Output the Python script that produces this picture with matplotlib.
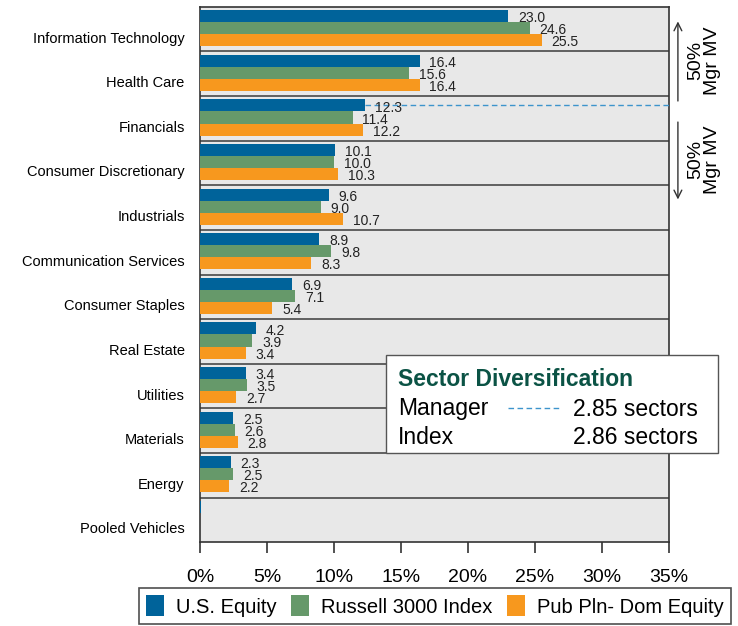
import matplotlib.pyplot as plt
from matplotlib.lines import Line2D
from matplotlib.patches import Patch, Rectangle
from matplotlib.transforms import ScaledTranslation

plt.rcParams["font.family"] = ["Liberation Sans", "DejaVu Sans"]

# Sector weights (% of market value)
sectors = [
    "Information Technology",
    "Health Care",
    "Financials",
    "Consumer Discretionary",
    "Industrials",
    "Communication Services",
    "Consumer Staples",
    "Real Estate",
    "Utilities",
    "Materials",
    "Energy",
    "Pooled Vehicles",
]
us_equity = [23.0, 16.4, 12.3, 10.1, 9.6, 8.9, 6.9, 4.2, 3.4, 2.5, 2.3, 0.05]
russell_3000 = [24.6, 15.6, 11.4, 10.0, 9.0, 9.8, 7.1, 3.9, 3.5, 2.6, 2.5, 0.0]
pub_pln_dom = [25.5, 16.4, 12.2, 10.3, 10.7, 8.3, 5.4, 3.4, 2.7, 2.8, 2.2, 0.0]
series_names = ["U.S. Equity", "Russell 3000 Index", "Pub Pln- Dom Equity"]
x_ticks = [0, 5, 10, 15, 20, 25, 30, 35]

manager_sectors = 2.85
index_sectors = 2.86

COLORS = ["#00639a", "#66996a", "#f7981e"]
DASH_COLOR = "#3d94cc"
TITLE_COLOR = "#0b5345"

fig = plt.figure(figsize=(7.38, 6.26), dpi=100)
ax = fig.add_axes([0.271, 0.134, 0.6355, 0.855])
ax.set_facecolor("#e8e8e8")

bar_h = 0.27
offsets = [-0.27, 0.0, 0.27]
all_series = [us_equity, russell_3000, pub_pln_dom]
positions = list(range(len(sectors)))

for values, off, color in zip(all_series, offsets, COLORS):
    ys = [p + off - 0.02 for p in positions]
    ax.barh(ys, values, height=bar_h, color=color, edgecolor="none", zorder=3)
    for y, v, name in zip(ys, values, sectors):
        if name == "Pooled Vehicles":
            continue
        ax.annotate(f"{v:.1f}", xy=(v, y), xytext=(7, -1.5),
                    textcoords="offset points", ha="left", va="center",
                    fontsize=10, color="#222222", zorder=4)

# group separators
for i in range(len(sectors) - 1):
    ax.axhline(i + 0.5, color="#555555", linewidth=1.3, zorder=2)

ax.set_xlim(0, 35)
ax.set_ylim(len(sectors) - 0.5, -0.5)
ax.set_yticks(positions)
ax.set_yticklabels(sectors, fontsize=10.5)
ax.tick_params(axis="y", length=0, pad=11)
# category names sit a little below the group centre
shift = ScaledTranslation(0, -8 / 100, fig.dpi_scale_trans)
for lbl in ax.get_yticklabels():
    lbl.set_transform(lbl.get_transform() + shift)
ax.set_xticks(x_ticks)
ax.set_xticklabels([f"{t}%" for t in x_ticks], fontsize=14)
ax.tick_params(axis="x", direction="out", length=8, width=1.2, pad=11,
               color="#333333")
for spine in ax.spines.values():
    spine.set_color("#333333")
    spine.set_linewidth(1.2)

# manager split line at Financials
fin = sectors.index("Financials")
ax.plot([us_equity[fin], 35], [fin - 0.29, fin - 0.29], linestyle=(0, (4, 2.5)),
        color=DASH_COLOR, linewidth=1.0, zorder=3)

# 50% market value arrows on the right
arrow_kw = dict(arrowstyle="->", color="#333333", lw=1.0, mutation_scale=14)
ax.annotate("", xy=(1.019, 0.978), xytext=(1.019, 0.819),
            xycoords="axes fraction", arrowprops=arrow_kw, annotation_clip=False)
ax.annotate("", xy=(1.019, 0.635), xytext=(1.019, 0.79),
            xycoords="axes fraction", arrowprops=arrow_kw, annotation_clip=False)
for yy in (0.9, 0.715):
    ax.text(1.075, yy, "50%\nMgr MV", transform=ax.transAxes, rotation=90,
            ha="center", va="center", fontsize=14, linespacing=0.95)

# sector diversification box
box = Rectangle((386 / 738, 1 - 453 / 626), (718 - 386) / 738, (453 - 355) / 626,
                transform=fig.transFigure, facecolor="white", edgecolor="#555555",
                linewidth=1.0, zorder=5)
fig.add_artist(box)
fig.text(398 / 738, 1 - 380 / 626, "Sector Diversification", fontsize=16.5,
         fontweight="bold", color=TITLE_COLOR, va="center", zorder=6)
fig.text(398 / 738, 1 - 409 / 626, "Manager", fontsize=16.5, va="center", zorder=6)
fig.add_artist(Line2D([508 / 738, 560 / 738], [1 - 408 / 626, 1 - 408 / 626],
                      transform=fig.transFigure, color=DASH_COLOR,
                      linestyle=(0, (4, 2.5)), linewidth=1.0, zorder=6))
fig.text(573 / 738, 1 - 409 / 626, f"{manager_sectors:.2f} sectors", fontsize=16.5,
         va="center", zorder=6)
fig.text(398 / 738, 1 - 437 / 626, "Index", fontsize=16.5, va="center", zorder=6)
fig.text(573 / 738, 1 - 437 / 626, f"{index_sectors:.2f} sectors", fontsize=16.5,
         va="center", zorder=6)

handles = [Patch(facecolor=c, edgecolor="none") for c in COLORS]
leg = fig.legend(handles, series_names, loc="center", ncol=3,
                 bbox_to_anchor=(0.589, 0.032), fontsize=14.5, frameon=True,
                 fancybox=False, edgecolor="#222222", handlelength=0.9,
                 handleheight=1.2, handletextpad=0.6, columnspacing=0.7,
                 borderpad=0.35, borderaxespad=0.0)
leg.get_frame().set_linewidth(1.2)

fig.savefig("out.png", dpi=100)
